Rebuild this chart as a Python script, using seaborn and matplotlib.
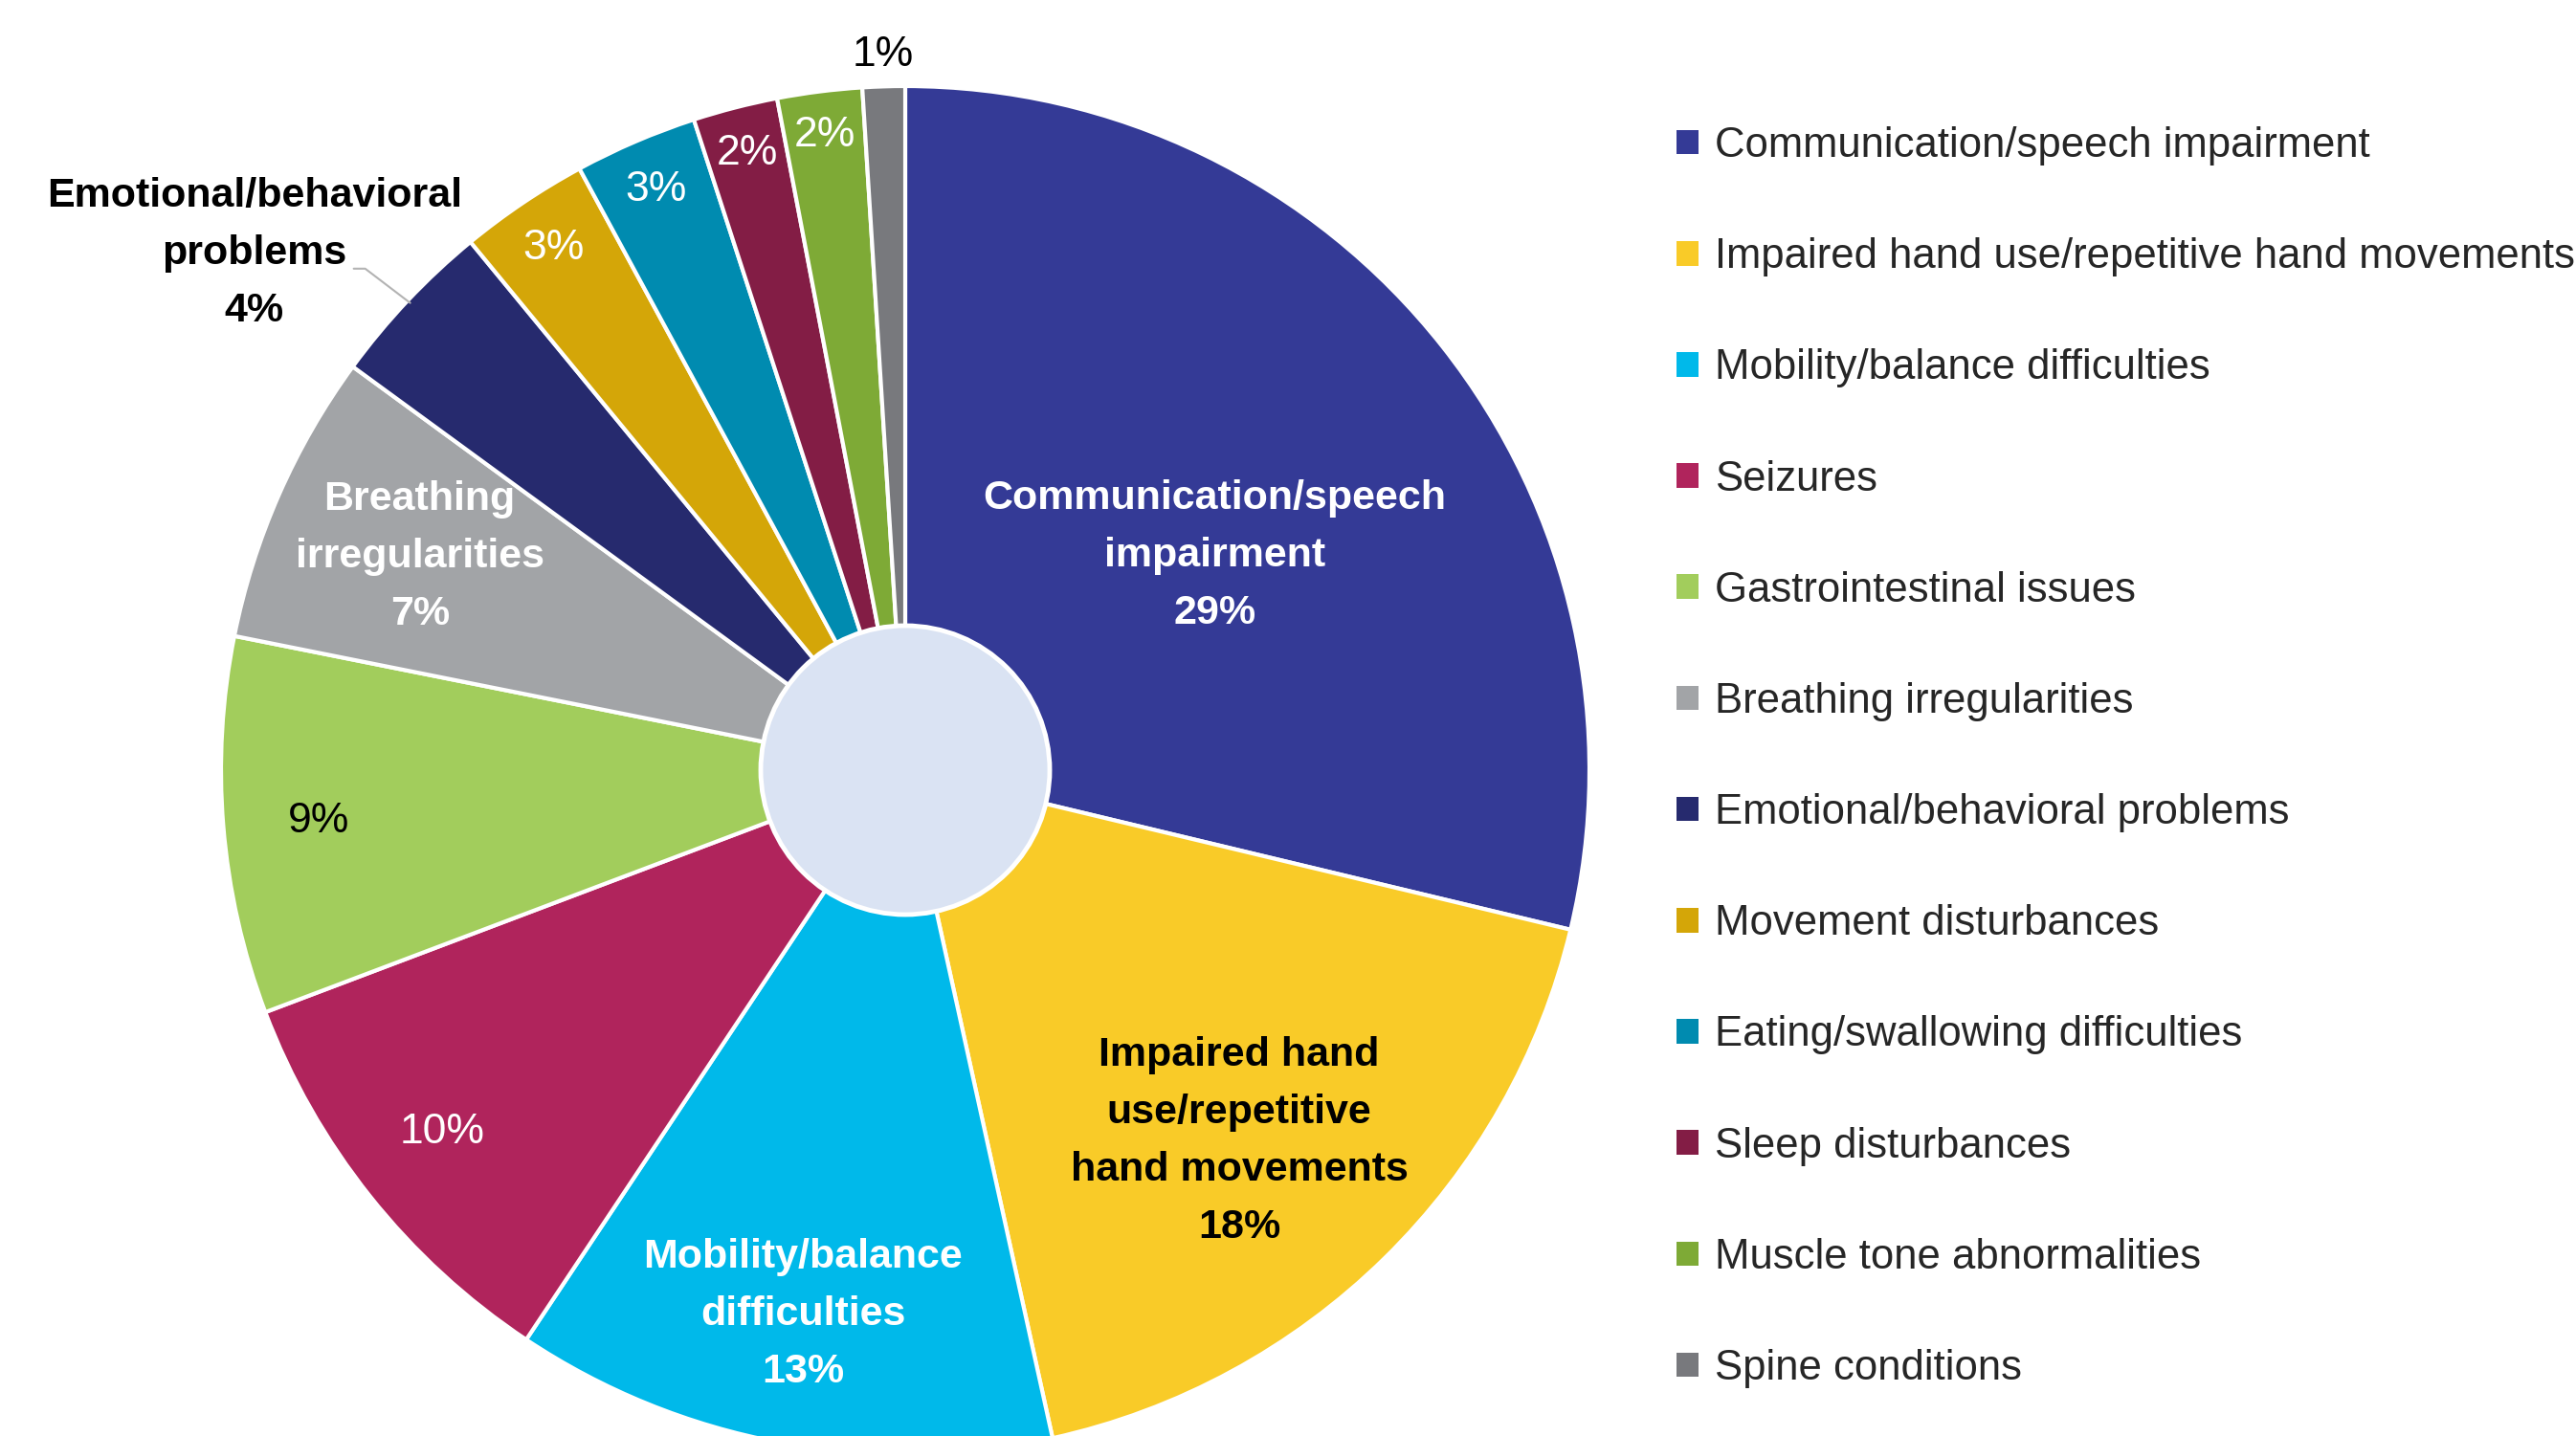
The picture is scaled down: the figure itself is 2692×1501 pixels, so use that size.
import numpy as np
import matplotlib
matplotlib.use("Agg")
import matplotlib.pyplot as plt
from matplotlib.patches import Patch, Circle
from matplotlib import font_manager as fm
import seaborn as sns

# ---------------- data ----------------
categories = [
    "Communication/speech impairment",
    "Impaired hand use/repetitive hand movements",
    "Mobility/balance difficulties",
    "Seizures",
    "Gastrointestinal issues",
    "Breathing irregularities",
    "Emotional/behavioral problems",
    "Movement disturbances",
    "Eating/swallowing difficulties",
    "Sleep disturbances",
    "Muscle tone abnormalities",
    "Spine conditions",
]
shares = [28.75, 17.8, 12.8, 9.9, 8.9, 6.9, 4.0, 3.06, 2.9, 2.0, 2.0, 1.0]
slice_names = [
    "Communication/speech\nimpairment",
    "Impaired hand\nuse/repetitive\nhand movements",
    "Mobility/balance\ndifficulties",
    None, None,
    "Breathing\nirregularities",
    "Emotional/behavioral\nproblems",
    None, None, None, None, None,
]
colors = ["#343A96", "#F9CB28", "#00B9EA", "#B0245C", "#A2CD5C", "#A2A4A7",
          "#262A6E", "#D4A608", "#008BB0", "#831D45", "#7EAA36", "#78797D"]

# ---------------- style ----------------
sns.set_theme(style="white")
names = {f.name for f in fm.fontManager.ttflist}
fam = "Liberation Sans Narrow" if "Liberation Sans Narrow" in names else "Liberation Sans"
plt.rcParams["font.family"] = [fam, "DejaVu Sans"]
narrow = fam == "Liberation Sans Narrow"
LEG_FS = 38 if narrow else 31.4
LAB_FS = 40 if narrow else 31
PCT_FS = 40 if narrow else 32

W, H = 2692, 1501
fig = plt.figure(figsize=(W / 100, H / 100), dpi=100)
ax = fig.add_axes([0, 0, 1, 1])

CX, CY, R, HOLE = 946, 696, 715, 151

wedges, _ = ax.pie(shares, colors=colors, startangle=90, counterclock=False,
                   center=(CX, CY), radius=R, frame=True,
                   wedgeprops=dict(edgecolor="white", linewidth=3))
ax.set_xlim(0, W)
ax.set_ylim(0, H)
ax.set_aspect("equal")
ax.axis("off")
ax.add_patch(Circle((CX, CY), HOLE, facecolor="#DAE3F3", edgecolor="white",
                    linewidth=3.5, zorder=5))

# label style per slice: (text colour, bold, radial factor, angle tweak)
lab_style = [
    ("white", True, 0.55, -3.5),
    ("black", True, 0.73, -2.5),
    ("white", True, 0.81, 0.0),
    ("white", False, 0.86, -0.5),
    ("black", False, 0.86, 0.3),
    ("white", True, 0.775, 0.0),
    ("black", True, 1.215, 4.9),
    ("white", False, 0.92, 0.0),
    ("white", False, 0.923, 0.0),
    ("white", False, 0.93, 0.0),
    ("white", False, 0.935, 0.0),
    ("black", False, 1.046, 0.0),
]

for w, v, nm, (col, bold, rf, dth) in zip(wedges, shares, slice_names, lab_style):
    mid = np.deg2rad((w.theta1 + w.theta2) / 2 + dth)
    x = CX + rf * R * np.cos(mid)
    y = CY + rf * R * np.sin(mid)
    txt = f"{round(v)}%" if nm is None else f"{nm}\n{round(v)}%"
    ax.text(x, y, txt, ha="center", va="center", color=col,
            fontsize=LAB_FS if bold else PCT_FS,
            fontweight="bold" if bold else "normal", linespacing=1.64,
            zorder=10)
    if rf > 1.1:
        m0 = np.deg2rad((w.theta1 + w.theta2) / 2)
        px, py = CX + 0.995 * R * np.cos(m0), CY + 0.995 * R * np.sin(m0)
        ax.plot([x + 104, x + 116, px], [y - 16, y - 16, py],
                color="#B3B3B3", linewidth=1.5, zorder=4)

fs_px = LEG_FS * 100 / 72
handles = [Patch(facecolor=c, edgecolor="none") for c in colors]
leg = fig.legend(handles, categories, loc="upper left",
                 bbox_to_anchor=(1752 / W, 1 - 132 / H), frameon=False,
                 fontsize=LEG_FS, handlelength=23 / fs_px, handleheight=23 / fs_px,
                 handletextpad=17 / fs_px, labelspacing=(116.4 - 0.945 * fs_px) / fs_px,
                 borderpad=0, borderaxespad=0)

fig.savefig("out.png", dpi=100, facecolor="white")
